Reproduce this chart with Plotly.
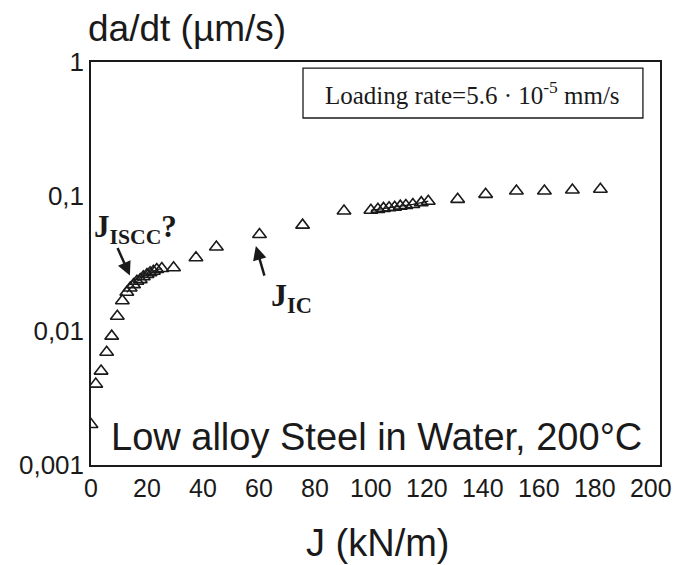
import math
import plotly.graph_objects as go

# data
J = [0, 1.7, 3.6, 5.6, 7.4, 9.4, 11.2, 12.8, 14.0, 15.2, 16.4, 17.6, 18.7, 20.0,
     21.1, 22.3, 23.5, 25.3, 29.5, 37.5, 44.8, 60.2, 75.6, 90.4,
     100, 102.5, 104.5, 106.5, 108.5, 110.5, 112.5, 115, 118, 120.5,
     131, 141, 152, 162, 172, 182]
dadt = [0.002, 0.004, 0.005, 0.0069, 0.0091, 0.0128, 0.0167, 0.0193, 0.0208, 0.022,
        0.0233, 0.024, 0.0252, 0.0262, 0.027, 0.0277, 0.0285, 0.029, 0.0294,
        0.0349, 0.042, 0.052, 0.061, 0.0777,
        0.0787, 0.080, 0.0813, 0.0822, 0.083, 0.0845, 0.0855, 0.087, 0.0897, 0.092,
        0.095, 0.1035, 0.1096, 0.1096, 0.1114, 0.1128]

x_ticks = [0, 20, 40, 60, 80, 100, 120, 140, 160, 180, 200]
y_ticks = [0.001, 0.01, 0.1, 1]
y_ticktext = ["0,001", "0,01", "0,1", "1"]

SANS = "Liberation Sans, Arial, sans-serif"
SERIF = "Liberation Serif, Times New Roman, serif"
INK = "#1a1a1a"

fig = go.Figure()

# thin lines through the two dense clusters
for a, b in [(7, 18), (24, 34)]:
    fig.add_trace(go.Scatter(x=J[a:b], y=dadt[a:b], mode="lines",
                             line=dict(color=INK, width=1.2),
                             hoverinfo="skip", showlegend=False))

fig.add_trace(go.Scatter(
    x=J, y=dadt, mode="markers",
    marker=dict(symbol="triangle-up-open", size=12,
                color=INK, line=dict(color=INK, width=1.6)),
    showlegend=False))

# page body has an 8px margin: size/margins compensate for it
fig.update_layout(
    width=681, height=557,
    margin=dict(l=83, r=29, t=54, b=100),
    paper_bgcolor="white", plot_bgcolor="white",
    font=dict(family=SANS, color=INK),
    xaxis=dict(range=[0, 203.3], tickvals=x_ticks, showgrid=False, zeroline=False,
               showline=True, linecolor=INK, linewidth=1.5, mirror=True,
               ticks="", automargin=False,
               tickfont=dict(size=25, family=SANS, color=INK)),
    yaxis=dict(type="log", range=[-3, 0], tickvals=y_ticks, ticktext=y_ticktext,
               showgrid=False, zeroline=False, showline=True, linecolor=INK,
               linewidth=1.5, mirror=True, ticks="", automargin=False,
               tickfont=dict(size=26, family=SANS, color=INK)),
    shapes=[dict(type="rect", xref="paper", yref="paper",
                 x0=0.3726, x1=0.970, y0=0.861, y1=0.985,
                 line=dict(color=INK, width=1.3), fillcolor="white")],
)

annotations = [
    dict(xref="paper", yref="paper", x=-0.008, y=1.084,
         xanchor="left", yanchor="middle", showarrow=False,
         text="da/dt (µm/s)", font=dict(size=37, family=SANS, color=INK)),
    dict(xref="paper", yref="paper", x=0.504, y=-0.1935,
         xanchor="center", yanchor="middle", showarrow=False,
         text="J (kN/m)", font=dict(size=38, family=SANS, color=INK)),
    dict(xref="paper", yref="paper", x=0.502, y=0.0695,
         xanchor="center", yanchor="middle", showarrow=False,
         text="Low alloy Steel in Water, 200°C",
         font=dict(size=38, family=SANS, color=INK)),
    dict(xref="x", yref="paper", x=16, y=0.586,
         xanchor="center", yanchor="middle", showarrow=False,
         text="<b>J<sub>ISCC</sub>?</b>",
         font=dict(size=31, family=SERIF, color=INK)),
    dict(xref="x", yref="paper", x=71.5, y=0.415,
         xanchor="center", yanchor="middle", showarrow=False,
         text="<b>J<sub>IC</sub></b>",
         font=dict(size=32, family=SERIF, color=INK)),
    dict(xref="paper", yref="paper", x=0.671, y=0.923,
         xanchor="center", yanchor="middle", showarrow=False,
         text="Loading rate=5.6 · 10<sup>-5</sup> mm/s",
         font=dict(size=25, family=SERIF, color=INK)),
    # arrows (annotation y on a log axis is given as log10)
    dict(x=13.9, y=math.log10(0.0257), xref="x", yref="y",
         ax=-13, ay=-29, text="", showarrow=True,
         arrowhead=2, arrowsize=1.1, arrowwidth=2.5, arrowcolor=INK),
    dict(x=58.9, y=math.log10(0.0426), xref="x", yref="y",
         ax=9, ay=31, text="", showarrow=True,
         arrowhead=2, arrowsize=1.1, arrowwidth=2.5, arrowcolor=INK),
]
fig.update_layout(annotations=annotations)

fig.write_html("out.html")
